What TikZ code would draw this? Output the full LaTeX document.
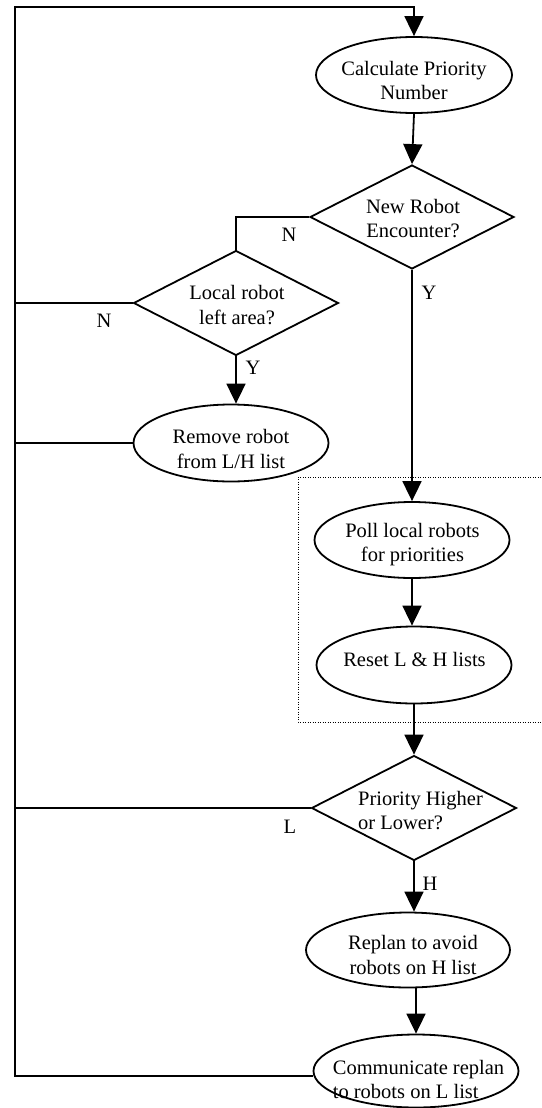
\documentclass[tikz,border=0pt]{standalone}
\usepackage{fontspec}
\setmainfont{Liberation Serif}
\usetikzlibrary{shapes.geometric,arrows.meta}
\begin{document}
\begin{tikzpicture}[x=1pt,y=-1pt,
  line width=1.8pt,
  ell/.style={draw,ellipse,inner sep=0pt},
  dia/.style={draw,diamond,inner sep=0pt},
  txt/.style={inner sep=0pt,align=center,font=\fontsize{20.5}{24.5}\selectfont},
  lbl/.style={inner sep=0pt,font=\fontsize{20.5}{24.5}\selectfont},
  arr/.style={-{Triangle[length=20pt,width=19pt]}},
  ]
\useasboundingbox (0,0) rectangle (541,1108);
% shapes
\node[ell,minimum width=196pt,minimum height=76pt] (calc) at (414,75) {};
\node[dia,minimum width=204pt,minimum height=104pt] (d1) at (412,217) {};
\node[dia,minimum width=205pt,minimum height=105pt] (d2) at (236,303) {};
\node[ell,minimum width=195pt,minimum height=77pt] (remove) at (231,443) {};
\node[ell,minimum width=195pt,minimum height=76pt] (poll) at (412,540) {};
\node[ell,minimum width=195pt,minimum height=77pt] (reset) at (414,665) {};
\node[dia,minimum width=205pt,minimum height=105pt] (prio) at (414,808) {};
\node[ell,minimum width=204pt,minimum height=75pt] (replan) at (408,950) {};
\node[ell,minimum width=205pt,minimum height=73pt] (comm) at (416,1071) {};
% texts
\node[txt] (tcalc) at (414,80.5) {Calculate Priority\\Number};
\node[txt] (td1) at (413,218.5) {New Robot\\Encounter?};
\node[txt] (td2) at (237,305) {Local robot\\left area?};
\node[txt] (tremove) at (231,449) {Remove robot\\from L/H list};
\node[txt] (tpoll) at (412.5,544.5) {Poll local robots\\for priorities};
\node[txt] (treset) at (414.5,659) {Reset L \& H lists};
\node[txt,align=left] (tprio) at (420.5,810.5) {Priority Higher\\or Lower?};
\node[txt] (treplan) at (413,955) {Replan to avoid\\robots on H list};
\node[txt,align=left] (tcomm) at (418.5,1079.5) {Communicate replan\\to robots on L list};
% branch labels
\node[lbl] (n1) at (289,235) {N};
\node[lbl] (n2) at (104,321) {N};
\node[lbl] (y2) at (253,368) {Y};
\node[lbl] (y1) at (429,293) {Y};
\node[lbl] (l1) at (290,827) {L};
\node[lbl] (h1) at (430,884) {H};
% dotted group box
\draw[line width=0.9pt,dash pattern=on 0.9pt off 1.6pt] (541,477) -- (298,477) -- (298,722) -- (541,722);
% return bus
\coordinate (lt) at (15,7);
\coordinate (lb) at (15,1076);
% connectors
\draw[arr] (comm.west |- lb) -- (lb) -- (lt) -| (calc.north);
\draw[arr] (calc.south) -- (d1.north);
\draw (d1.west) -| (d2.north);
\draw (d2.west) -- (d2.west -| lt);
\draw[arr] (d2.south) -- (d2.south |- remove.north);
\draw (remove.west) -- (remove.west -| lt);
\draw[arr] (d1.south) -- (poll.north);
\draw[arr] (poll.south) -- (poll.south |- reset.north);
\draw[arr] (reset.south) -- (reset.south |- prio.north);
\draw (prio.west) -- (prio.west -| lt);
\draw[arr] (prio.south) -- (prio.south |- replan.north);
\draw[arr] (replan.south -| comm.north) -- (comm.north);
\end{tikzpicture}
\end{document}
